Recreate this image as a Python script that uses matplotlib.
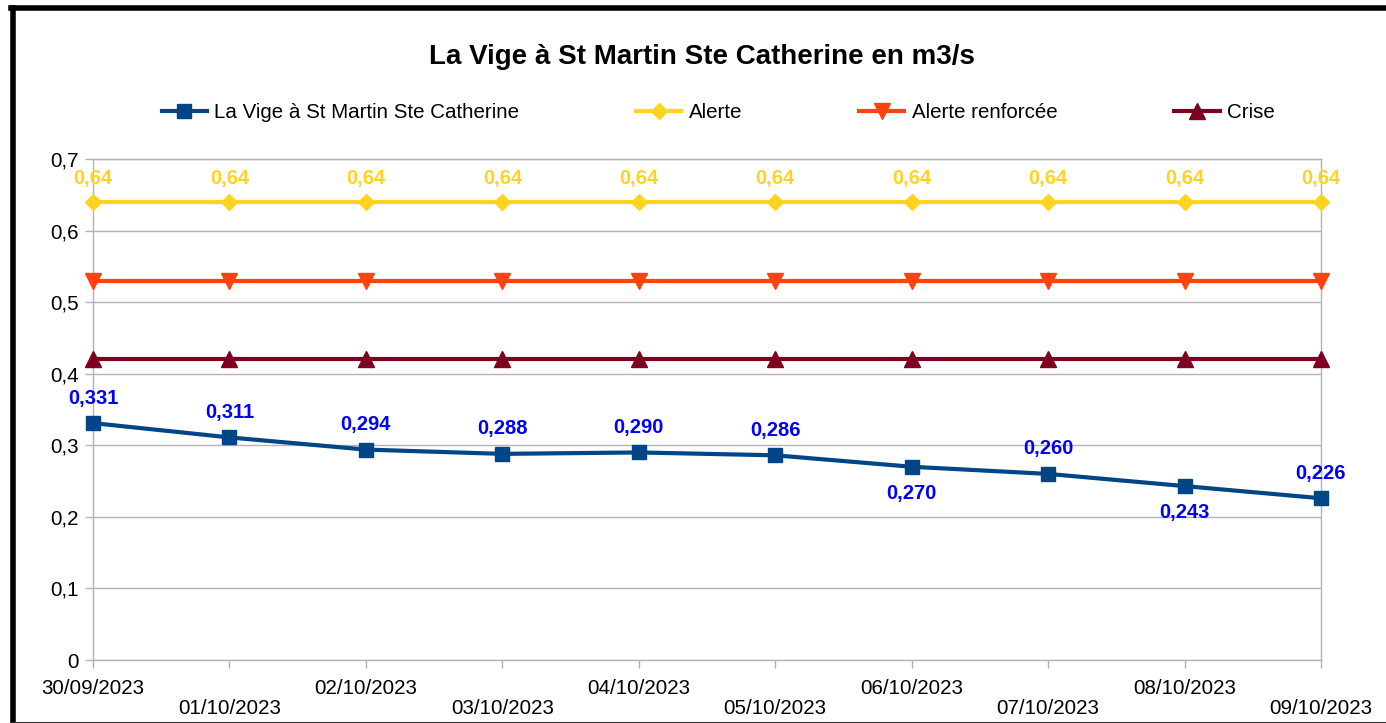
import matplotlib
matplotlib.use("Agg")
import matplotlib.pyplot as plt
from matplotlib.lines import Line2D

plt.rcParams['font.family'] = ['Liberation Sans', 'DejaVu Sans']

dates = ["30/09/2023", "01/10/2023", "02/10/2023", "03/10/2023", "04/10/2023",
         "05/10/2023", "06/10/2023", "07/10/2023", "08/10/2023", "09/10/2023"]
debit = [0.331, 0.311, 0.294, 0.288, 0.290, 0.286, 0.270, 0.260, 0.243, 0.226]
alerte = [0.64] * 10
alerte_renforcee = [0.53] * 10
crise = [0.42] * 10
label_below = [False, False, False, False, False, False, True, False, True, False]

title = "La Vige à St Martin Ste Catherine en m3/s"
names = ["La Vige à St Martin Ste Catherine", "Alerte", "Alerte renforcée", "Crise"]
yticks = [0, 0.1, 0.2, 0.3, 0.4, 0.5, 0.6, 0.7]

W, H = 1386, 723
fig = plt.figure(figsize=(W / 100, H / 100), dpi=100)
ax = fig.add_axes([93 / W, 1 - 660 / H, (1321 - 93) / W, (660 - 159) / H])

x = list(range(len(dates)))
c_main, c_al, c_ar, c_cr = "#004586", "#FFD320", "#FF420E", "#7E0021"
LW = 3.0

ax.plot(x, alerte, color=c_al, lw=LW, marker="D", ms=8, zorder=3, clip_on=False)
ax.plot(x, alerte_renforcee, color=c_ar, lw=LW, marker="v", ms=11, zorder=3, clip_on=False)
ax.plot(x, crise, color=c_cr, lw=LW, marker="^", ms=11, zorder=3, clip_on=False)
ax.plot(x, debit, color=c_main, lw=LW, marker="s", ms=10.5, zorder=4, clip_on=False)

for xi, v in zip(x, alerte):
    ax.annotate(f"{v:.2f}".replace(".", ","), (xi, v), xytext=(0, 17), textcoords="offset points",
                ha="center", va="center", color=c_al, fontsize=14.5, fontweight="bold", zorder=5)
for xi, v, b in zip(x, debit, label_below):
    ax.annotate(f"{v:.3f}".replace(".", ","), (xi, v), xytext=(0, -19 if b else 18),
                textcoords="offset points", ha="center", va="center", color="#0000FF",
                fontsize=14.5, fontweight="bold", zorder=5)

ax.set_xlim(0, 9)
ax.set_ylim(0, 0.7)
ax.set_yticks(yticks)
ax.set_yticklabels([("%g" % t).replace(".", ",") for t in yticks], fontsize=14.8)
ax.set_xticks(x)
ax.set_xticklabels([d if i % 2 == 0 else "\n" + d for i, d in enumerate(dates)], fontsize=14.8,
                   linespacing=1.1)
ax.grid(axis="y", color="#b3b3b3", lw=1)
ax.set_axisbelow(True)
for s in ax.spines.values():
    s.set_color("#b3b3b3")
    s.set_linewidth(1)
ax.tick_params(axis="both", color="#b3b3b3", length=6, width=1, pad=4)
ax.tick_params(axis="x", pad=7.5)

fig.text(702 / W, 1 - 57 / H, title, ha="center", va="center", fontsize=20, fontweight="bold")

handles = [
    Line2D([], [], color=c_main, lw=LW, marker="s", ms=10.5),
    Line2D([], [], color=c_al, lw=LW, marker="D", ms=8),
    Line2D([], [], color=c_ar, lw=LW, marker="v", ms=11),
    Line2D([], [], color=c_cr, lw=LW, marker="^", ms=11),
]
fig.legend(handles, names, loc="center", bbox_to_anchor=(718 / W, 1 - 112.5 / H), ncol=4,
           frameon=False, fontsize=14.8, handlelength=2.2, handletextpad=0.35,
           columnspacing=5.7, markerscale=1.0)

# outer frame
fig.add_artist(Line2D([13 / W, 13 / W], [0, 1 - 8 / H], color="black", lw=4, transform=fig.transFigure))
fig.add_artist(Line2D([11 / W, 1], [1 - 8 / H, 1 - 8 / H], color="black", lw=4, transform=fig.transFigure))
fig.add_artist(Line2D([11 / W, 1], [0.5 / H, 0.5 / H], color="#333333", lw=1.5, transform=fig.transFigure))

fig.savefig("out.png", dpi=100)
